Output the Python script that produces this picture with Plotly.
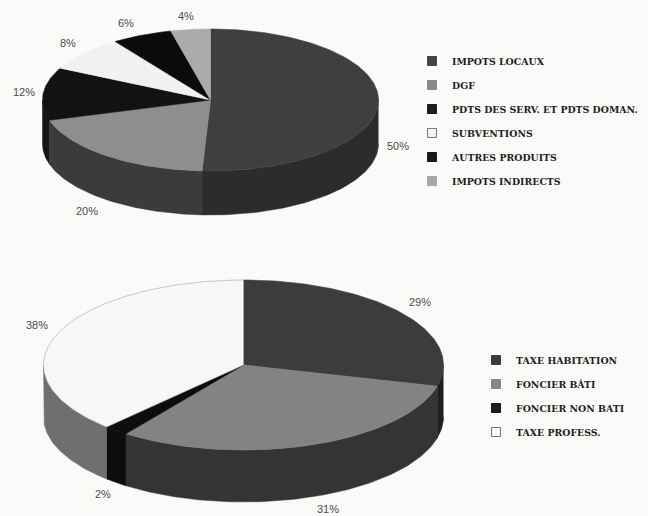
import numpy as np
import plotly.graph_objects as go

# --- data ---
revenue_labels = ["IMPOTS LOCAUX", "DGF", "PDTS DES SERV. ET PDTS DOMAN.",
                  "SUBVENTIONS", "AUTRES PRODUITS", "IMPOTS INDIRECTS"]
revenue_values = [50.8, 19.6, 12, 8, 5.8, 3.8]
revenue_text = ["50%", "20%", "12%", "8%", "6%", "4%"]

tax_labels = ["TAXE HABITATION", "FONCIER BÂTI", "FONCIER NON BATI", "TAXE PROFESS."]
tax_values = [29, 31, 2, 38]
tax_text = ["29%", "31%", "2%", "38%"]

# --- styles ---
revenue_top = ["#3f3f3f", "#8e8e8e", "#121212", "#f1f1f0", "#0b0b0b", "#ababab"]
revenue_side = ["#2c2c2c", "#3b3b3b", "#151515", "#cccccc", "#0b0b0b", "#888888"]
revenue_edge = revenue_top
revenue_swatch = ["#444444", "#8a8a8a", "#1c1c1c", "#f4f4f4", "#1a1a1a", "#a8a8a8"]
revenue_label_xy = [(398, 146), (87, 211), (24, 92), (68, 43), (126, 23), (186, 16)]

tax_top = ["#3c3c3c", "#838383", "#0d0d0d", "#f7f7f6"]
tax_side = ["#1f1f1f", "#343434", "#0d0d0d", "#6f6f6f"]
tax_edge = ["#3c3c3c", "#838383", "#0d0d0d", "#a5a5a5"]
tax_swatch = ["#3c3c3c", "#858585", "#1c1c1c", "#f6f6f6"]
tax_label_xy = [(420, 302), (328, 509), (103, 494), (37, 325)]

BG = "#fafaf8"
LABEL_FONT = dict(family="Liberation Sans", size=11, color="#4d4d4d")
LEGEND_FONT = dict(family="DejaVu Serif", size=9.4, color="#1e1e1e", weight="bold")


def arc(cx, cy, rx, ry, a0, a1):
    t = np.radians(np.linspace(a0, a1, max(int(abs(a1 - a0)) + 2, 3)))
    return cx + rx * np.sin(t), cy - ry * np.cos(t)


def add_pie(fig, values, labels, tops, sides, edges_col, swatches, cx, cy, rx, ry, depth, legend):
    edges = np.concatenate([[0], np.cumsum(values)]) / sum(values) * 360
    # visible outer wall first, only the part that faces the viewer
    for i in range(len(values)):
        a0, a1 = max(edges[i], 90), min(edges[i + 1], 270)
        if a1 > a0:
            x, y = arc(cx, cy, rx, ry, a0, a1)
            fig.add_trace(go.Scatter(
                x=np.concatenate([x, x[::-1]]),
                y=np.concatenate([y, y[::-1] + depth]),
                mode="lines", fill="toself", fillcolor=sides[i],
                line=dict(width=0.5, color=sides[i]),
                showlegend=False, hoverinfo="skip"))
    for i in range(len(values)):
        x, y = arc(cx, cy, rx, ry, edges[i], edges[i + 1])
        fig.add_trace(go.Scatter(
            x=np.concatenate([[cx], x, [cx]]),
            y=np.concatenate([[cy], y, [cy]]),
            mode="lines", fill="toself", fillcolor=tops[i],
            line=dict(width=0.6, color=edges_col[i]),
            name=labels[i], showlegend=False, hoverinfo="name"))
    for i, lab in enumerate(labels):
        fig.add_trace(go.Scatter(
            x=[None], y=[None], mode="markers", name=lab,
            legend=legend, legendgroup=lab,
            marker=dict(symbol="square", size=9, color=swatches[i],
                        line=dict(width=1, color="#777777" if swatches[i] > "#e" else swatches[i]))))


fig = go.Figure()
add_pie(fig, revenue_values, revenue_labels, revenue_top, revenue_side, revenue_edge, revenue_swatch,
        210.5, 100, 168, 71, 44, "legend")
add_pie(fig, tax_values, tax_labels, tax_top, tax_side, tax_edge, tax_swatch,
        243.5, 365, 200, 85, 52, "legend2")

annotations = []
for txt, (x, y) in list(zip(revenue_text, revenue_label_xy)) + list(zip(tax_text, tax_label_xy)):
    annotations.append(dict(x=x, y=y, xref="x", yref="y", text=txt, showarrow=False, font=LABEL_FONT))

fig.update_layout(
    width=648, height=516, margin=dict(l=0, r=0, t=0, b=0),
    paper_bgcolor=BG, plot_bgcolor=BG,
    xaxis=dict(range=[0, 648], visible=False, fixedrange=True),
    yaxis=dict(range=[516, 0], visible=False, fixedrange=True),
    annotations=annotations,
    legend=dict(x=412 / 648, y=1 - 46.5 / 516, xanchor="left", yanchor="top",
                font=LEGEND_FONT, bgcolor="rgba(0,0,0,0)", tracegroupgap=5,
                itemclick=False, itemdoubleclick=False),
    legend2=dict(x=476 / 648, y=1 - 345.5 / 516, xanchor="left", yanchor="top",
                 font=LEGEND_FONT, bgcolor="rgba(0,0,0,0)", tracegroupgap=5,
                 itemclick=False, itemdoubleclick=False),
)
fig.write_html("out.html", config=dict(displayModeBar=False),
               post_script="document.body.style.margin='0';document.documentElement.style.overflow='hidden';")
